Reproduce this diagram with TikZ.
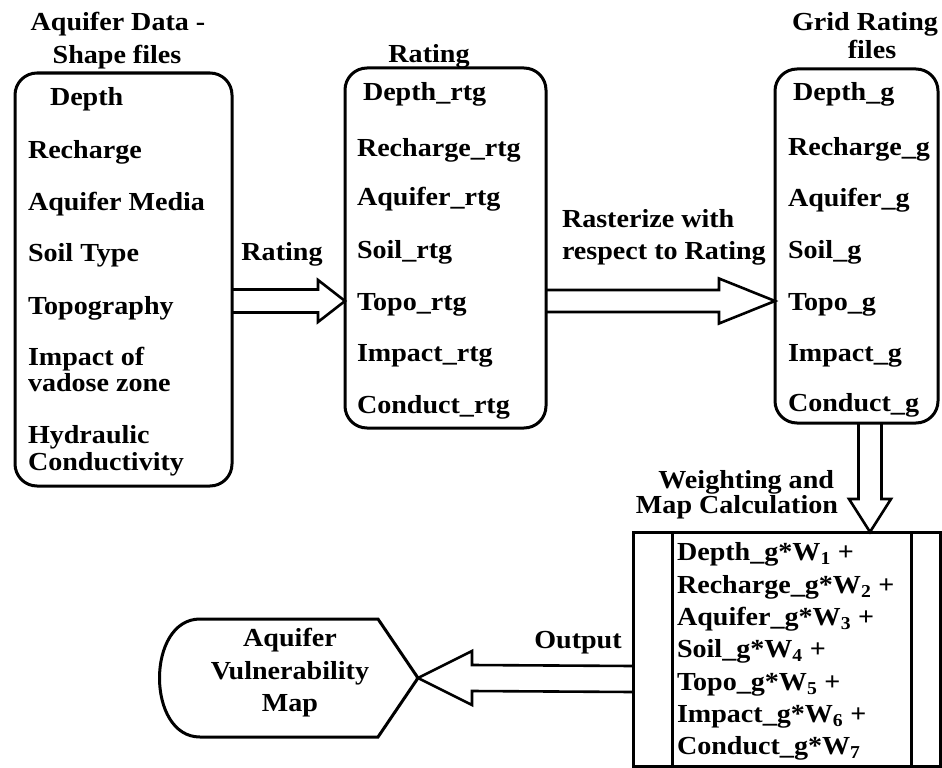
\documentclass[tikz,border=0pt]{standalone}
\usepackage{fontspec}
\setmainfont{Liberation Serif}[FakeStretch=1.08]
\usetikzlibrary{calc}
% hollow block arrows: start, end, head length, shaft half width, head half width
\newcommand{\hollowR}[5]{\draw[arrowline] ($(#1)+(0,-#4)$) -- ($(#2)+(-#3,-#4)$) -- ($(#2)+(-#3,-#5)$) -- (#2) -- ($(#2)+(-#3,#5)$) -- ($(#2)+(-#3,#4)$) -- ($(#1)+(0,#4)$);}
\newcommand{\hollowL}[5]{\draw[arrowline] ($(#1)+(0,-#4)$) -- ($(#2)+(#3,-#4)$) -- ($(#2)+(#3,-#5)$) -- (#2) -- ($(#2)+(#3,#5)$) -- ($(#2)+(#3,#4)$) -- ($(#1)+(0,#4)$);}
\newcommand{\hollowD}[5]{\draw[arrowline] ($(#1)+(-#4,0)$) -- ($(#2)+(-#4,-#3)$) -- ($(#2)+(-#5,-#3)$) -- (#2) -- ($(#2)+(#5,-#3)$) -- ($(#2)+(#4,-#3)$) -- ($(#1)+(#4,0)$);}
\begin{document}
\begin{tikzpicture}[x=1pt,y=-1pt,
  txt/.style={inner sep=0pt,outer sep=0pt,text height=17pt,text depth=0pt,
    font=\fontsize{26}{27}\selectfont\bfseries},
  box/.style={draw,line width=3pt,rounded corners=22pt,inner sep=0pt,outer sep=0pt},
  sqbox/.style={draw,line width=3pt,inner sep=0pt,outer sep=0pt},
  arrowline/.style={line width=2.6pt,line join=miter}]
\useasboundingbox (0,0) rectangle (942,768);

% ---- boxes
\node[box,minimum width=217pt,minimum height=413pt] (b1) at (123.5,279.5) {};
\node[box,minimum width=201pt,minimum height=360pt] (b2) at (445.5,248) {};
\node[box,minimum width=163pt,minimum height=354pt] (b3) at (856.5,246) {};
\node[sqbox,minimum width=307pt,minimum height=234pt] (b4) at (786.5,649) {};
\draw[line width=3pt] ([xshift=39pt]b4.north west) -- ([xshift=39pt]b4.south west);
\draw[line width=3pt] ([xshift=-29pt]b4.north east) -- ([xshift=-29pt]b4.south east);

% ---- titles
\node[txt] (t1a) at (118,22) {Aquifer Data -};
\node[txt] (t1b) at (117,55) {Shape files};
\node[txt] (t2) at (429,54) {Rating};
\node[txt] (t3a) at (865,22) {Grid Rating};
\node[txt] (t3b) at (872,50) {files};

% ---- box 1 text
\node[txt,anchor=west] (p1) at (50,97) {Depth};
\node[txt,anchor=west] (p2) at (28,150) {Recharge};
\node[txt,anchor=west] (p3) at (28,202) {Aquifer Media};
\node[txt,anchor=west] (p4) at (28,253) {Soil Type};
\node[txt,anchor=west] (p5) at (28,306) {Topography};
\node[txt,anchor=west] (p6a) at (28,357) {Impact of};
\node[txt,anchor=west] (p6b) at (28,383) {vadose zone};
\node[txt,anchor=west] (p7a) at (28,435) {Hydraulic};
\node[txt,anchor=west] (p7b) at (28,462) {Conductivity};

% ---- box 2 text
\node[txt,anchor=west] (r1) at (363,92) {Depth\_rtg};
\node[txt,anchor=west] (r2) at (357,148) {Recharge\_rtg};
\node[txt,anchor=west] (r3) at (357,197) {Aquifer\_rtg};
\node[txt,anchor=west] (r4) at (357,250) {Soil\_rtg};
\node[txt,anchor=west] (r5) at (357,302) {Topo\_rtg};
\node[txt,anchor=west] (r6) at (357,353) {Impact\_rtg};
\node[txt,anchor=west] (r7) at (357,405) {Conduct\_rtg};

% ---- box 3 text
\node[txt,anchor=west] (g1) at (793,92) {Depth\_g};
\node[txt,anchor=west] (g2) at (788,147) {Recharge\_g};
\node[txt,anchor=west] (g3) at (788,198) {Aquifer\_g};
\node[txt,anchor=west] (g4) at (788,250) {Soil\_g};
\node[txt,anchor=west] (g5) at (788,302) {Topo\_g};
\node[txt,anchor=west] (g6) at (788,353) {Impact\_g};
\node[txt,anchor=west] (g7) at (788,403) {Conduct\_g};

% ---- box 4 text
\node[txt,anchor=west] (w1) at (677,552) {Depth\_g*W\textsubscript{1} +};
\node[txt,anchor=west] (w2) at (677,585) {Recharge\_g*W\textsubscript{2} +};
\node[txt,anchor=west] (w3) at (677,617) {Aquifer\_g*W\textsubscript{3} +};
\node[txt,anchor=west] (w4) at (677,649) {Soil\_g*W\textsubscript{4} +};
\node[txt,anchor=west] (w5) at (677,682) {Topo\_g*W\textsubscript{5} +};
\node[txt,anchor=west] (w6) at (677,714) {Impact\_g*W\textsubscript{6} +};
\node[txt,anchor=west] (w7) at (677,746) {Conduct\_g*W\textsubscript{7}};

% ---- output shape
\node[inner sep=0pt] (hex) at (290,678) {};
\coordinate (hextip) at ($(hex)+(128,0)$);
\draw[line width=3pt,line join=miter]
  ($(hex)+(-90,-59)$) -- ($(hex)+(88,-59)$) -- (hextip) -- ($(hex)+(88,59)$) -- ($(hex)+(-90,59)$)
  .. controls ($(hex)+(-144,59)$) and ($(hex)+(-144,-59)$) .. ($(hex)+(-90,-59)$) -- cycle;
\node[txt] (h1) at (290,638) {Aquifer};
\node[txt] (h2) at (290,671) {Vulnerability};
\node[txt] (h3) at (290,703) {Map};

% ---- arrow labels
\node[txt] (l1) at (282,252) {Rating};
\node[txt,anchor=west] (l2a) at (562,219) {Rasterize with};
\node[txt,anchor=west] (l2b) at (562,251) {respect to Rating};
\node[txt,anchor=east] (l3a) at (834,480) {Weighting and};
\node[txt,anchor=east] (l3b) at (838,505) {Map Calculation};
\node[txt] (l4) at (578,640) {Output};

% ---- arrows
\coordinate (ry) at (0,301);
\coordinate (dx) at (870,0);
\coordinate (oy) at (0,679);
\coordinate (a1s) at (b1.east |- ry);
\coordinate (a1e) at (b2.west |- ry);
\coordinate (a2s) at (b2.east |- ry);
\coordinate (a2e) at (b3.west |- ry);
\coordinate (a3s) at (dx |- b3.south);
\coordinate (a3e) at (dx |- b4.north);
\coordinate (a4s) at (b4.west |- oy);
\hollowR{a1s}{a1e}{27}{11.5}{21}
\hollowR{a2s}{a2e}{56}{11}{22.5}
\hollowD{a3s}{a3e}{33}{11.5}{21}
\hollowL{a4s}{hextip}{54}{13}{27}
\end{tikzpicture}
\end{document}
